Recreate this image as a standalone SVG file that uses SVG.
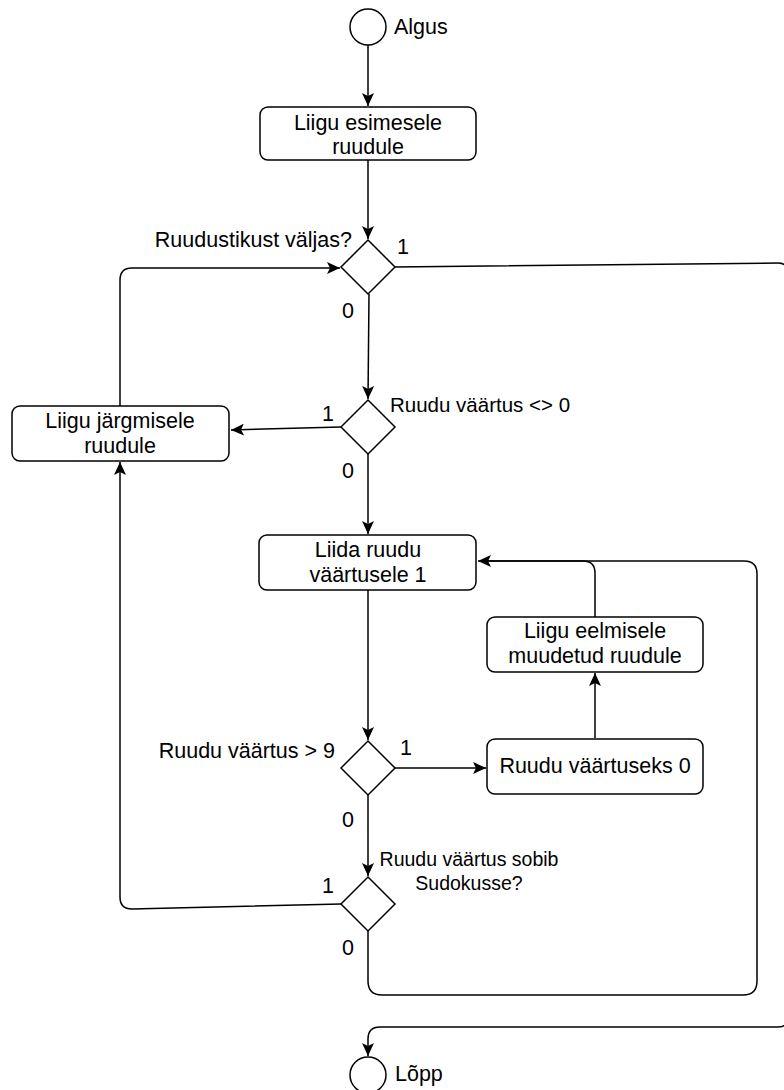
<svg xmlns="http://www.w3.org/2000/svg" width="784" height="1090" viewBox="0 0 784 1090">
<style>
.n{fill:#fff;stroke:#000;stroke-width:1.5}
.t{font-family:"Liberation Sans",Arial,sans-serif;font-size:21.5px;fill:#000}
.s{font-size:20.5px}
.x{font-size:19.5px}
.m{text-anchor:middle}
.e{text-anchor:end}
.c{fill:none;stroke:#000;stroke-width:1.5}
</style>
<defs>
<marker id="a" markerUnits="userSpaceOnUse" markerWidth="14" markerHeight="12" viewBox="0 0 14 12" refX="13" refY="6" orient="auto">
<path d="M0,0 L13,6 L0,12 L3,6 z" fill="#000"/>
</marker>
</defs>
<rect width="784" height="1090" fill="#fff"/>
<g id="connectors">
<path class="c" d="M368 45 L368 106" marker-end="url(#a)"/>
<path class="c" d="M368 160 L368 239" marker-end="url(#a)"/>
<path class="c" d="M395 267 L778 263 Q788 263 788 273 L788 1017 Q788 1027 778 1027 L380 1027 Q368 1027 368 1039 L368 1056" marker-end="url(#a)"/>
<path class="c" d="M369 294 L368 399" marker-end="url(#a)"/>
<path class="c" d="M341 427 L231 430" marker-end="url(#a)"/>
<path class="c" d="M120 406 L120 280 Q120 268 132 268 L340 268" marker-end="url(#a)"/>
<path class="c" d="M368 454 L368 534" marker-end="url(#a)"/>
<path class="c" d="M368 590 L368 740" marker-end="url(#a)"/>
<path class="c" d="M395 768 L486 768" marker-end="url(#a)"/>
<path class="c" d="M595 738 L595 673" marker-end="url(#a)"/>
<path class="c" d="M595 617 L595 573 Q595 561 583 561 L478 561" marker-end="url(#a)"/>
<path class="c" d="M368 795 L368 876" marker-end="url(#a)"/>
<path class="c" d="M341 904 L132 909 Q120 909 120 897 L120 462" marker-end="url(#a)"/>
<path class="c" d="M368 931 L368 981 Q368 995 382 995 L743 995 Q757 995 757 981 L757 574 Q757 561 744 561 L480 561"/>
</g>
<g id="start">
<circle class="n" cx="368" cy="27" r="18"/>
<text class="t" x="394" y="34">Algus</text>
</g>
<g id="box1">
<rect class="n" x="260" y="107" width="216" height="53" rx="8"/>
<text class="t m" x="368" y="130">Liigu esimesele</text>
<text class="t m" x="368" y="154">ruudule</text>
</g>
<g id="d1">
<path class="n" d="M368 240 L395 267 L368 294 L341 267 Z"/>
<text class="t e" x="352" y="247">Ruudustikust väljas?</text>
<text class="t" x="397" y="254">1</text>
<text class="t" x="342" y="318">0</text>
</g>
<g id="box2">
<rect class="n" x="12" y="406" width="217" height="55" rx="8"/>
<text class="t m" x="120" y="428">Liigu järgmisele</text>
<text class="t m" x="120" y="453">ruudule</text>
</g>
<g id="d2">
<path class="n" d="M368 400 L395 427 L368 454 L341 427 Z"/>
<text class="t s" x="390" y="412">Ruudu väärtus &lt;&gt; 0</text>
<text class="t" x="322" y="421">1</text>
<text class="t" x="342" y="478">0</text>
</g>
<g id="box3">
<rect class="n" x="259" y="535" width="217" height="55" rx="8"/>
<text class="t m" x="368" y="557">Liida ruudu</text>
<text class="t m" x="368" y="582">väärtusele 1</text>
</g>
<g id="box4">
<rect class="n" x="487" y="617" width="216" height="55" rx="8"/>
<text class="t m" x="595" y="638">Liigu eelmisele</text>
<text class="t m" x="595" y="663">muudetud ruudule</text>
</g>
<g id="d3">
<path class="n" d="M368 741 L395 768 L368 795 L341 768 Z"/>
<text class="t e" x="335" y="758">Ruudu väärtus &gt; 9</text>
<text class="t" x="400" y="755">1</text>
<text class="t" x="342" y="827">0</text>
</g>
<g id="box5">
<rect class="n" x="487" y="739" width="216" height="55" rx="8"/>
<text class="t m" x="595" y="773">Ruudu väärtuseks 0</text>
</g>
<g id="d4">
<path class="n" d="M368 877 L395 904 L368 931 L341 904 Z"/>
<text class="t x m" x="469" y="866">Ruudu väärtus sobib</text>
<text class="t x m" x="469" y="890">Sudokusse?</text>
<text class="t" x="322" y="893">1</text>
<text class="t" x="342" y="955">0</text>
</g>
<g id="end">
<circle class="n" cx="368" cy="1075" r="18"/>
<text class="t" x="395" y="1081">Lõpp</text>
</g>
</svg>
